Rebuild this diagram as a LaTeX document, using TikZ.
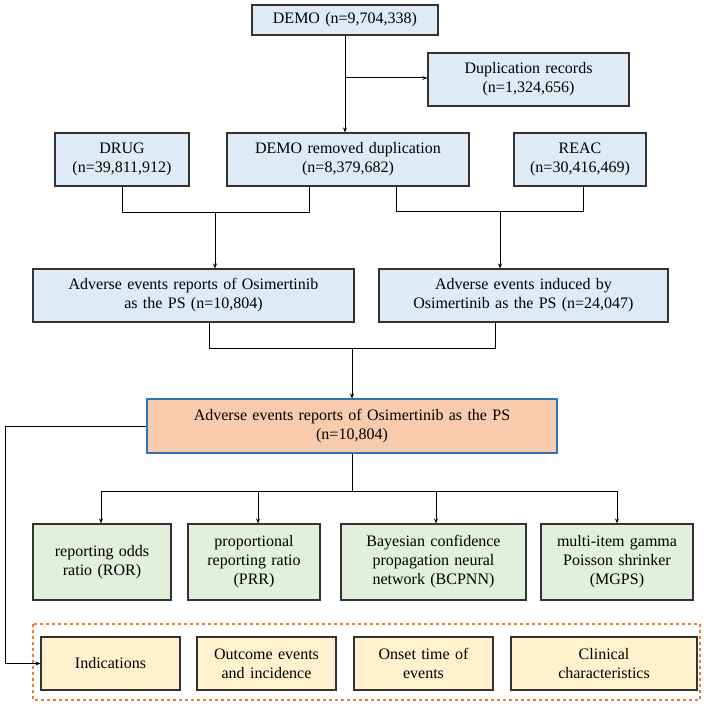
\documentclass[tikz,border=0pt]{standalone}
\usepackage{fontspec}
\setmainfont{Liberation Serif}
\usetikzlibrary{arrows.meta}
\definecolor{bl}{HTML}{DEEBF7}
\definecolor{og}{HTML}{F8CBAD}
\definecolor{gr}{HTML}{E2EFDA}
\definecolor{ye}{HTML}{FFF2CC}
\definecolor{dor}{HTML}{ED7D31}
\definecolor{bb}{HTML}{2E75B6}
\begin{document}
\begin{tikzpicture}[x=1pt,y=-1pt,
 box/.style={draw=black!80,line width=1.2pt,inner sep=1pt,align=center,font=\fontsize{16}{19}\selectfont},
 con/.style={line width=1pt},
 arr/.style={line width=1pt,-{Stealth[length=5pt,width=4pt]}}]
\useasboundingbox (0,0) rectangle (708,706);
\newcommand{\bx}[7]{\node[box,fill=#6,minimum width={#3-#2},minimum height={#5-#4},text width={#3-#2-6}] (#1) at ({(#2+#3)/2},{(#4+#5)/2}) {#7};}
\bx{demo}{252}{438}{5}{35}{bl}{DEMO (n=9,704,338)}
\bx{dup}{428}{629}{53}{106}{bl}{Duplication records\\(n=1,324,656)}
\bx{drug}{55}{189}{133}{186}{bl}{DRUG\\(n=39,811,912)}
\bx{dem}{227}{469}{133}{186}{bl}{DEMO removed duplication\\(n=8,379,682)}
\bx{reac}{514}{646}{133}{186}{bl}{REAC\\(n=30,416,469)}
\bx{ae1}{33}{354}{269}{322}{bl}{Adverse events reports of Osimertinib\\as the PS (n=10,804)}
\bx{ae2}{379}{668}{269}{322}{bl}{Adverse events induced by\\Osimertinib as the PS (n=24,047)}
\node[box,draw=bb,fill=og,minimum width=410,minimum height=54,text width=404] (main) at (352,426) {Adverse events reports of Osimertinib as the PS\\(n=10,804)};
\bx{ror}{33}{171}{524}{600}{gr}{reporting odds\\ratio (ROR)}
\bx{prr}{188}{320}{524}{600}{gr}{proportional\\reporting ratio\\(PRR)}
\bx{bcp}{341}{526}{524}{600}{gr}{Bayesian confidence\\propagation neural\\network (BCPNN)}
\bx{mgp}{541}{693}{524}{600}{gr}{multi-item gamma\\Poisson shrinker\\(MGPS)}
\draw[dor,dashed,line width=1.2pt] (33,624) rectangle (700,700);
\bx{ind}{41}{180}{637}{690}{ye}{Indications}
\bx{out}{197}{336}{637}{690}{ye}{Outcome events\\and incidence}
\bx{ons}{354}{493}{637}{690}{ye}{Onset time of\\events}
\bx{cli}{511}{697}{637}{690}{ye}{Clinical\\characteristics}
\coordinate (j0) at (345,78);
\draw[arr] (demo.south -| j0) -- (dem.north -| j0);
\draw[arr] (j0) -- (j0 -| dup.west);
\draw[con] (122,186) |- (309,212) -- (309,186);
\draw[arr] (215,212) -- (ae1.north -| 215,0);
\draw[con] (396,186) |- (583,211) -- (583,186);
\draw[arr] (500,211) -- (ae2.north -| 500,0);
\draw[con] (209,322) |- (495,348) -- (495,322);
\draw[arr] (352,348) -- (main.north);
\draw[con] (main.south) -- (352,491);
\draw[con] (101,491) -- (617,491);
\draw[arr] (101,491) -- (ror.north -| 101,0);
\draw[arr] (258,491) -- (prr.north -| 258,0);
\draw[arr] (436,491) -- (bcp.north -| 436,0);
\draw[arr] (617,491) -- (mgp.north -| 617,0);
\draw[arr] (main.west |- 0,426) -- (5,426) |- (ind.west);
\end{tikzpicture}
\end{document}
